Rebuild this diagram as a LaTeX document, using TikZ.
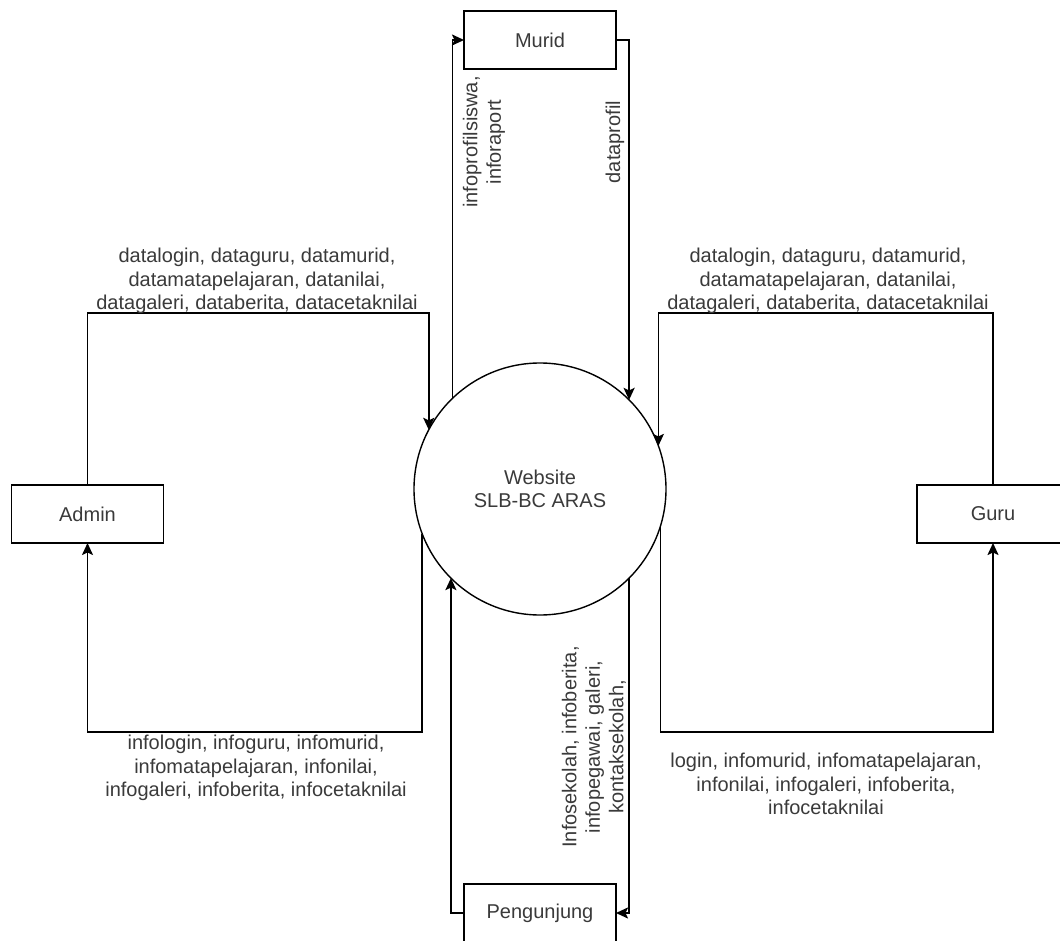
\documentclass[tikz,border=0pt]{standalone}
\usepackage{fontspec}
\setmainfont{Liberation Sans}
\usepackage{tikz}
\usetikzlibrary{arrows.meta}
\definecolor{txtgray}{HTML}{3A3A3A}

\begin{document}
\begin{tikzpicture}[x=1pt, y=-1pt, line width=1.8pt,
  entity/.style={draw, rectangle, minimum width=152pt, minimum height=58pt, inner sep=0pt, outer sep=0pt, font=\fontsize{20}{23.5}\selectfont, text=txtgray},
  proc/.style={draw, circle, minimum size=252pt, inner sep=0pt, outer sep=0pt, align=center, line width=1.4pt, font=\fontsize{20}{23.5}\selectfont, text=txtgray},
  flow/.style={-{Stealth[length=12pt,width=11pt,inset=2.5pt]}},
  lbl/.style={align=center, inner sep=0pt, font=\fontsize{20}{23.5}\selectfont, text=txtgray}]
\useasboundingbox (0,0) rectangle (1060,941);

\node[proc] (web) at (540,489) {Website\\SLB-BC ARAS};
\node[entity] (murid) at (540,40) {Murid};
\node[entity] (admin) at (87.5,514) {Admin};
\node[entity] (guru) at (993,514) {Guru};
\node[entity] (pengunjung) at (540,913) {Pengunjung};

% admin
\draw[flow] (admin.north) -- (admin.north |- 0,313) -- (web.152.7 |- 0,313) -- (web.152.7);
\draw[flow] (web.201.8) -- (web.201.8 |- 0,732) -- (admin.south |- 0,732) -- (admin.south);
\node[lbl] (admindata) at (257,281) {datalogin, dataguru, datamurid,\\datamatapelajaran, datanilai,\\datagaleri, databerita, datacetaknilai};
\node[lbl] (admininfo) at (256,768) {infologin, infoguru, infomurid,\\infomatapelajaran, infonilai,\\infogaleri, infoberita, infocetaknilai};

% murid
\draw[flow] (web.134.3) -- (web.134.3 |- murid.west) -- (murid.west);
\draw[flow] (murid.east) -- (murid.east -| web.45) -- (web.45);
\node[lbl, rotate=90] (muridinfo) at (484,142) {infoprofilsiswa,\\inforaport};
\node[lbl, rotate=90] (muriddata) at (615,142) {dataprofil};

% guru
\draw[flow] (guru.north) -- (guru.north |- 0,313) -- (web.20.5 |- 0,313) -- (web.20.5);
\draw[flow] (web.343.8) -- (web.343.8 |- 0,732) -- (guru.south |- 0,732) -- (guru.south);
\node[lbl] (gurudata) at (828,281) {datalogin, dataguru, datamurid,\\datamatapelajaran, datanilai,\\datagaleri, databerita, datacetaknilai};
\node[lbl] (guruinfo) at (826,784) {login, infomurid, infomatapelajaran,\\infonilai, infogaleri, infoberita,\\infocetaknilai};

% pengunjung
\draw[flow] (pengunjung.west) -- (pengunjung.west -| web.225.7) -- (web.225.7);
\draw[flow] (web.315) -- (web.315 |- pengunjung.east) -- (pengunjung.east);
\node[lbl, rotate=90] (pengunjunginfo) at (594,747) {Infosekolah, infoberita,\\infopegawai, galeri,\\kontaksekolah,};
\end{tikzpicture}
\end{document}
